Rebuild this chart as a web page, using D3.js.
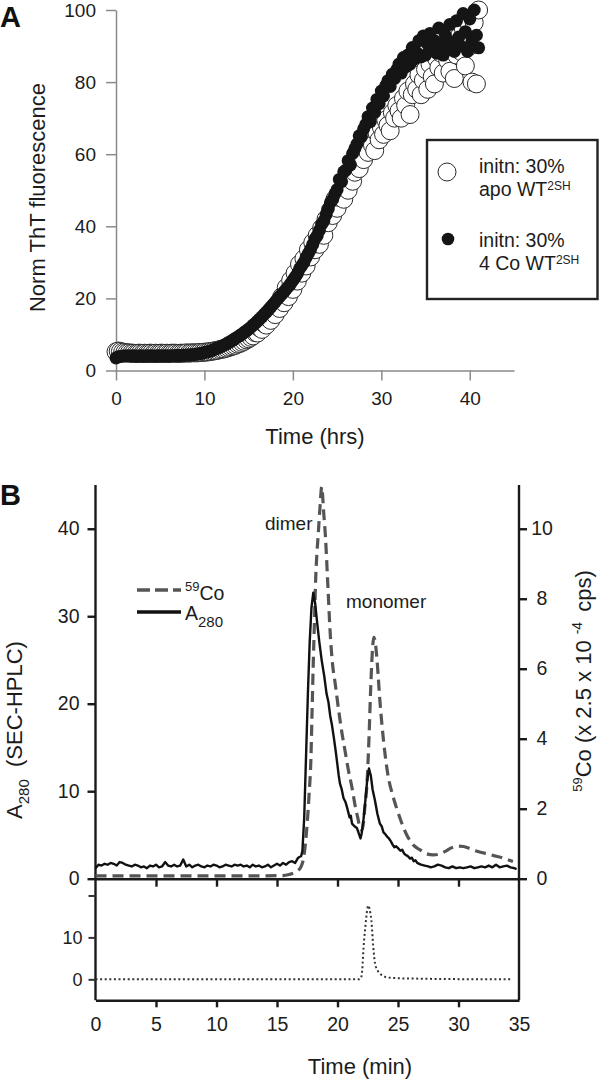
<!DOCTYPE html>
<html><head><meta charset="utf-8">
<script src="https://cdn.jsdelivr.net/npm/d3@7"></script>
<style>
html,body{margin:0;padding:0;background:#fff;}
svg{display:block;}
</style></head><body>
<svg id="c" width="601" height="1080"></svg>
<script>
// ---------------- DATA ----------------
// Panel A: ThT fluorescence (hours)
const thtTime = [
 0,0.25,0.5,0.75, 1,1.25,1.5,1.75, 2,2.25,2.5,2.75, 3,3.25,3.5,3.75, 4,4.25,4.5,4.75,
 5,5.25,5.5,5.75, 6,6.25,6.5,6.75, 7,7.25,7.5,7.75, 8,8.25,8.5,8.75, 9,9.25,9.5,9.75,
 10,10.25,10.5,10.75, 11,11.25,11.5,11.75, 12,12.25,12.5,12.75, 13,13.25,13.5,13.75,
 14,14.25,14.5,14.75, 15,15.25,15.5,15.75, 16,16.25,16.5,16.75, 17,17.25,17.5,17.75,
 18,18.25,18.5,18.75, 19,19.25,19.5,19.75, 20,20.25,20.5,20.75, 21,21.25,21.5,21.75,
 22,22.25,22.5,22.75, 23,23.25,23.5,23.75, 24,24.25,24.5,24.75, 25,25.25,25.5,25.75,
 26,26.25,26.5,26.75, 27,27.25,27.5,27.75, 28,28.25,28.5,28.75, 29,29.25,29.5,29.75,
 30,30.25,30.5,30.75, 31,31.25,31.5,31.75, 32,32.25,32.5,32.75, 33,33.25,33.5,33.75,
 34,34.25,34.5,34.75, 35,35.25,35.5,35.75, 36,36.25,36.5,36.75, 37,37.25,37.5,37.75,
 38,38.25,38.5,38.75, 39,39.25,39.5,39.75, 40,40.25,40.5,40.75, 41];
const apoValues = [
 5.2,5.4,5.3,5.1, 5.0,4.9,4.9,4.8, 4.8,4.7,4.8,4.8, 4.7,4.8,4.7,4.8, 4.8,4.7,4.8,4.7,
 4.8,4.8,4.7,4.8, 4.7,4.8,4.8,4.8, 4.7,4.8,4.8,4.8, 4.9,4.8,4.9,4.9, 4.9,4.9,5.0,5.0,
 5.1,5.1,5.2,5.3, 5.4,5.5,5.6,5.8, 5.9,6.0,6.2,6.4, 6.6,6.8,7.0,7.3,
 7.5,7.8,8.1,8.5, 8.8,9.2,9.6,10.5, 10.4,11.8,11.4,13.0, 12.6,14.5,13.9,16.2,
 15.5,18.0,17.2,20.5, 18.8,23.0,20.5,25.0, 22.5,27.0,24.8,29.5, 27.0,31.0,29.0,33.5,
 31.5,35.5,33.5,37.5, 35.0,39.5,37.5,42.0, 41.0,44.5,43.0,47.5, 45.0,48.0,49.5,47.5,
 51.5,50.0,54.5,52.5, 55.0,57.5,56.0,60.0, 58.5,62.0,60.5,64.5, 62.5,61.0,66.0,64.0,
 67.5,65.5,69.5,68.0, 66.5,71.5,70.0,73.5, 72.0,70.0,75.5,73.5, 77.5,71.0,76.5,79.5,
 78.0,82.0,76.5,80.5, 83.5,78.0,85.0,81.5, 79.5,86.5,84.0,88.0, 82.5,89.5,86.0,83.0,
 90.5,81.0,87.5,92.5, 88.5,95.0,84.5,97.0, 90.0,80.0,96.5,79.5, 100.0];
const coValues = [
 3.5,3.8,3.9,4.0, 4.0,4.1,4.0,4.0, 4.1,4.0,4.0,4.1, 4.0,4.0,4.1,4.0, 4.1,4.0,4.0,4.1,
 4.1,4.0,4.1,4.1, 4.0,4.1,4.1,4.1, 4.2,4.1,4.2,4.2, 4.3,4.3,4.4,4.4, 4.5,4.6,4.7,4.8,
 5.0,5.1,5.3,5.5, 5.7,6.0,6.2,6.5, 6.8,7.1,7.4,7.8, 8.1,8.5,8.9,9.3,
 9.7,10.1,10.6,11.0, 11.5,12.0,12.6,13.1, 13.7,14.3,14.9,15.6, 16.2,16.9,17.6,18.3,
 19.0,19.8,20.5,21.2, 21.8,22.6,23.3,24.1, 25.0,25.9,26.8,28.2, 29.1,30.0,31.4,32.5,
 33.6,35.0,36.5,37.4, 38.9,40.6,41.5,43.2, 44.8,46.6,47.5,49.0, 50.2,53.0,52.4,55.1,
 55.6,58.2,57.0,60.2, 61.5,62.8,65.1,64.9, 67.0,68.3,70.4,69.0, 72.8,71.6,75.2,74.0,
 77.5,76.2,79.0,80.4, 78.8,82.2,81.0,83.5, 85.0,82.5,86.8,84.2, 87.5,85.0,89.6,86.4,
 88.2,91.5,87.0,92.8, 87.5,90.5,93.5,89.0, 91.5,88.0,95.0,90.5, 87.5,93.0,89.0,96.0,
 91.0,88.5,97.0,92.5, 90.0,99.0,94.0,88.5, 97.5,91.5,100.0,93.0, 89.5];
const aXTicks = [0,10,20,30,40];
const aYTicks = [0,20,40,60,80,100];

// Panel B: SEC-HPLC (minutes); [time, value]
const a280 = [
 [0,1.2],[0.25,1.6],[0.5,1.5],[0.75,1.7],[1,1.6],[1.25,1.8],[1.5,1.7],[1.75,1.5],[2,1.9],[2.25,1.8],
 [2.5,1.6],[2.75,1.5],[3,1.4],[3.25,1.6],[3.5,1.5],[3.75,1.3],[4,1.4],[4.25,1.2],[4.5,1.5],[4.75,1.4],
 [5,1.6],[5.25,1.3],[5.5,1.4],[5.75,1.9],[6,1.5],[6.25,1.4],[6.5,1.6],[6.75,1.4],[7,1.5],[7.25,2.2],
 [7.5,1.4],[7.75,1.6],[8,1.3],[8.25,1.5],[8.5,1.6],[8.75,1.4],[9,1.3],[9.25,1.5],[9.5,1.4],[9.75,1.6],
 [10,1.5],[10.25,1.3],[10.5,1.4],[10.75,1.6],[11,1.5],[11.25,1.4],[11.5,1.6],[11.75,1.5],[12,1.6],[12.25,1.4],
 [12.5,1.5],[12.75,1.3],[13,1.6],[13.25,1.4],[13.5,1.5],[13.75,1.3],[14,1.4],[14.25,1.6],[14.5,1.3],[14.75,1.5],
 [15,1.7],[15.25,1.5],[15.5,1.8],[15.75,1.6],[16,1.9],[16.25,2.0],[16.5,1.8],[16.75,2.4],
 [17.0,2.6],[17.1,3.2],[17.25,7],[17.4,14],[17.55,21],[17.7,27],[17.85,31],[18.0,32.7],[18.15,31.5],[18.3,29.5],
 [18.5,27],[18.7,24.9],[18.9,23.2],[19.1,21.1],[19.25,20.2],[19.4,18.6],[19.55,17.5],[19.7,16.1],[19.85,14.6],[19.95,13.5],
 [20.1,11.8],[20.2,10.9],[20.35,10.2],[20.5,9.2],[20.65,8.8],[20.8,8.1],[21.0,7.0],[21.1,7.2],[21.2,6.3],[21.4,6.0],
 [21.6,5.8],[21.75,5.2],[21.9,4.6],[22.0,5.2],[22.15,6.8],[22.3,8.9],[22.45,11.2],[22.6,12.6],[22.75,11.8],[22.9,10.2],
 [23.1,8.9],[23.3,7.4],[23.5,6.3],[23.65,6.0],[23.8,5.3],[23.95,5.1],[24.1,4.8],[24.25,4.6],[24.4,4.3],[24.55,3.9],
 [24.7,3.6],[24.85,3.7],[25.0,3.5],[25.2,3.2],[25.35,3.3],[25.5,2.9],[25.65,2.7],[25.8,2.6],[26.0,2.3],[26.15,2.4],
 [26.3,2.0],[26.45,2.1],[26.6,1.8],[26.75,1.7],[26.9,1.6],[27.2,1.5],[27.5,1.4],[27.7,1.3],[28.0,1.4],[28.3,1.6],
 [28.6,1.5],[28.9,1.3],[29.2,1.2],[29.5,1.4],[29.8,1.2],[30.1,1.3],[30.4,1.2],[30.7,1.3],[31.0,1.4],[31.3,1.2],
 [31.6,1.3],[31.9,1.4],[32.2,1.3],[32.5,1.5],[32.8,1.3],[33.1,1.6],[33.4,1.3],[33.7,1.4],[34.0,1.5],[34.3,1.3],
 [34.6,1.2],[34.8,1.1]];
// 59Co in right-axis units (x 2.5 x 10^-4 cps)
const co59 = [
 [0,0.08],[4,0.08],[8,0.08],[12,0.08],[15.5,0.09],[16.0,0.12],[16.5,0.18],[16.8,0.25],[17.0,0.35],[17.2,0.6],
 [17.35,1.0],[17.5,1.6],[17.65,2.4],[17.8,3.4],[17.9,4.8],[18.0,6.2],[18.1,7.4],[18.2,8.6],[18.3,9.3],[18.4,9.8],
 [18.55,10.6],[18.7,11.2],[18.85,10.5],[19.0,9.8],[19.2,8.4],[19.4,7.0],[19.6,6.1],[19.8,5.6],[20.1,4.8],[20.35,4.2],
 [20.6,3.7],[20.9,3.1],[21.2,2.6],[21.45,2.1],[21.7,1.7],[21.9,1.4],[22.05,1.4],[22.25,2.0],[22.45,2.8],[22.6,4.0],
 [22.75,5.5],[22.9,6.6],[23.0,6.9],[23.1,6.8],[23.3,6.1],[23.5,5.1],[23.7,4.3],[23.95,3.5],[24.2,2.9],[24.55,2.4],
 [24.9,2.0],[25.3,1.6],[25.8,1.2],[26.3,0.95],[26.8,0.83],[27.3,0.72],[27.9,0.68],[28.4,0.7],[28.9,0.78],[29.4,0.88],
 [29.9,0.93],[30.4,0.92],[30.9,0.87],[31.4,0.8],[31.9,0.75],[32.4,0.71],[32.9,0.66],[33.4,0.62],[33.9,0.56],[34.5,0.49]];
// lower trace
const lowerTrace = [
 [0,0],[5,0],[10,0],[15,0],[20,0],[21.8,0],[21.95,0.4],[22.05,2.5],[22.15,7.5],[22.3,12.5],
 [22.45,16.5],[22.55,17.6],[22.65,16.8],[22.8,14],[22.95,8],[23.1,3.8],[23.3,2.2],[23.5,1.4],[23.8,0.8],[24.0,0.5],
 [24.5,0.35],[25.1,0.25],[26,0.2],[28,0.1],[30,0.05],[34.3,0]];
const bXTicks = [0,5,10,15,20,25,30,35];
const bLeftTicks = [0,10,20,30,40];
const bRightTicks = [0,2,4,6,8,10];
const bLowerTicks = [0,10,20];

// ---------------- DRAW ----------------
const FONT = '"Liberation Sans", Arial, Helvetica, sans-serif';
const INK = '#1c1c1c';
const svg = d3.select('#c').style('font-family', FONT);

function styleAxis(g, color, width, fs) {
  g.attr('font-family', FONT).attr('font-size', fs);
  g.selectAll('path.domain').attr('stroke', color).attr('stroke-width', width);
  g.selectAll('.tick line').attr('stroke', color).attr('stroke-width', width);
  g.selectAll('.tick text').attr('fill', INK);
}

// ---- Panel A ----
const xA = d3.scaleLinear().domain([0,45]).range([116,514]);
const yA = d3.scaleLinear().domain([0,100]).range([370.5,10]);

const gxA = svg.append('g').attr('transform', `translate(0,${yA(0)})`)
  .call(d3.axisBottom(xA).tickValues(aXTicks).tickSize(10).tickSizeOuter(0).tickPadding(11.5));
styleAxis(gxA, '#8a8a8a', 1.5, 19);
const gyA = svg.append('g').attr('transform', `translate(${xA(0)},0)`)
  .call(d3.axisLeft(yA).tickValues(aYTicks).tickSize(10).tickSizeOuter(0).tickPadding(10));
styleAxis(gyA, '#8a8a8a', 1.5, 19);

const apoPts = thtTime.map((t,i)=>[t, apoValues[i]]).filter(d=>d[1]!=null);
const coPts = thtTime.map((t,i)=>[t, coValues[i]]).filter(d=>d[1]!=null);
svg.append('g').selectAll('circle').data(apoPts).join('circle')
  .attr('cx', d=>xA(d[0])).attr('cy', d=>yA(d[1])).attr('r', 9)
  .attr('fill', '#fff').attr('stroke', '#2a2a2a').attr('stroke-width', 1);
svg.append('g').selectAll('circle').data(coPts).join('circle')
  .attr('cx', d=>xA(d[0])).attr('cy', d=>yA(d[1])).attr('r', 6.5)
  .attr('fill', '#151515');

svg.append('text').attr('x', xA(0) + (xA(45)-xA(0))/2).attr('y', 444)
  .attr('text-anchor','middle').attr('font-size',22).attr('fill',INK).text('Time (hrs)');
svg.append('text').attr('transform','translate(45,197.5) rotate(-90)')
  .attr('text-anchor','middle').attr('font-size',22).attr('fill',INK).text('Norm ThT fluorescence');
svg.append('text').attr('x',0).attr('y',27).attr('font-size',29).attr('font-weight','bold')
  .attr('fill','#111').text('A');

// legend A
const legA = svg.append('g');
legA.append('rect').attr('x',427).attr('y',140).attr('width',170.5).attr('height',159)
  .attr('fill','#fff').attr('stroke','#222').attr('stroke-width',2.4);
legA.append('circle').attr('cx',447).attr('cy',172).attr('r',9)
  .attr('fill','#fff').attr('stroke','#2a2a2a').attr('stroke-width',1);
legA.append('circle').attr('cx',448).attr('cy',239).attr('r',6.3).attr('fill','#151515');
function legText(y1, l1, y2, l2) {
  legA.append('text').attr('x',479).attr('y',y1).attr('font-size',19.5).attr('fill',INK).text(l1);
  const t = legA.append('text').attr('x',479).attr('y',y2).attr('font-size',19.5).attr('fill',INK);
  t.append('tspan').text(l2);
  t.append('tspan').attr('font-size',12).attr('dy',-6).text('2SH');
}
legText(173, 'initn: 30%', 196, 'apo WT');
legText(247, 'initn: 30%', 270, '4 Co WT');

// ---- Panel B ----
const xB = d3.scaleLinear().domain([0,35]).range([95.5,519]);
const yL = d3.scaleLinear().domain([0,45]).range([878.7,485]);
const yR = d3.scaleLinear().domain([0,11.25]).range([878.7,485]);
const yD = d3.scaleLinear().domain([-5,24]).range([1000.3,878.7]);
const AX = '#1a1a1a', AXW = 2.4;

// spines
svg.append('line').attr('x1',xB(0)).attr('x2',xB(0)).attr('y1',yL(45)).attr('y2',yD(-5))
  .attr('stroke',AX).attr('stroke-width',AXW);
svg.append('line').attr('x1',xB(35)).attr('x2',xB(35)).attr('y1',yL(45)).attr('y2',yD(-5))
  .attr('stroke',AX).attr('stroke-width',AXW);

const gL = svg.append('g').attr('transform',`translate(${xB(0)},0)`)
  .call(d3.axisLeft(yL).tickValues(bLeftTicks).tickSize(8).tickSizeOuter(0).tickPadding(8));
styleAxis(gL, AX, AXW, 19.5);
gL.select('path.domain').remove();

const gR = svg.append('g').attr('transform',`translate(${xB(35)},0)`)
  .call(d3.axisRight(yR).tickValues(bRightTicks).tickSize(8).tickSizeOuter(0).tickPadding(8));
styleAxis(gR, AX, AXW, 19.5);
gR.select('path.domain').remove();
gR.selectAll('.tick text').attr('text-anchor','middle').attr('x',23);

// upper x axis (ticks only, no labels)
const gXU = svg.append('g').attr('transform',`translate(0,${yL(0)})`)
  .call(d3.axisBottom(xB).tickValues([5,10,15,20,25,30]).tickSize(8).tickSizeOuter(0).tickFormat(''));
styleAxis(gXU, AX, AXW, 19.5);

// lower axes
const gD = svg.append('g').attr('transform',`translate(${xB(0)},0)`)
  .call(d3.axisLeft(yD).tickValues(bLowerTicks).tickSize(7).tickSizeOuter(0).tickPadding(6)
    .tickFormat(d => d===20 ? '' : d));
styleAxis(gD, '#333', 2, 18);
gD.select('path.domain').remove();

const gXB = svg.append('g').attr('transform',`translate(0,${yD(-5)})`)
  .call(d3.axisBottom(xB).tickValues(bXTicks).tickSize(7).tickSizeOuter(0).tickPadding(10));
styleAxis(gXB, AX, AXW, 19.5);
gXB.selectAll('.tick line').filter(d => d===0 || d===35).remove();

// lines
const lineL = d3.line().x(d=>xB(d[0])).y(d=>yL(d[1]));
const lineR = d3.line().x(d=>xB(d[0])).y(d=>yR(d[1])).curve(d3.curveMonotoneX);
const lineD = d3.line().x(d=>xB(d[0])).y(d=>yD(d[1])).curve(d3.curveMonotoneX);

svg.append('path').datum(co59).attr('d', lineR).attr('fill','none')
  .attr('stroke','#555').attr('stroke-width',3.2).attr('stroke-dasharray','11,6');
svg.append('path').datum(a280).attr('d', lineL).attr('fill','none')
  .attr('stroke','#111').attr('stroke-width',2.4).attr('stroke-linejoin','round');
svg.append('path').datum(lowerTrace).attr('d', lineD).attr('fill','none')
  .attr('stroke','#333').attr('stroke-width',2).attr('stroke-dasharray','2,2.6');

// annotations
svg.append('text').attr('x',265).attr('y',530).attr('font-size',19).attr('fill',INK).text('dimer');
svg.append('text').attr('x',346).attr('y',608).attr('font-size',19).attr('fill',INK).text('monomer');

// legend B
svg.append('line').attr('x1',137).attr('x2',181).attr('y1',590).attr('y2',590)
  .attr('stroke','#555').attr('stroke-width',3.5).attr('stroke-dasharray','13,5');
svg.append('line').attr('x1',137).attr('x2',181).attr('y1',612).attr('y2',612)
  .attr('stroke','#111').attr('stroke-width',3.5);
const lc = svg.append('text').attr('x',185).attr('y',600).attr('font-size',19.5).attr('fill',INK);
lc.append('tspan').attr('font-size',13).attr('dy',-9).text('59');
lc.append('tspan').attr('dy',9).text('Co');
const la = svg.append('text').attr('x',185).attr('y',620).attr('font-size',19.5).attr('fill',INK);
la.append('tspan').text('A');
la.append('tspan').attr('font-size',15).attr('dy',7).text('280');

// axis titles B
const tl = svg.append('text').attr('transform','translate(22,730) rotate(-90)')
  .attr('text-anchor','middle').attr('font-size',22).attr('fill',INK);
tl.append('tspan').text('A');
tl.append('tspan').attr('font-size',15).attr('dy',7).text('280');
tl.append('tspan').attr('dy',-7).text('\u00a0 (SEC-HPLC)');

const tr = svg.append('text').attr('transform','translate(591,681) rotate(-90)')
  .attr('text-anchor','middle').attr('font-size',22).attr('fill',INK);
tr.append('tspan').attr('font-size',13).attr('dy',-9).text('59');
tr.append('tspan').attr('dy',9).text('Co (x 2.5 x 10');
tr.append('tspan').attr('font-size',14).attr('dy',-9).attr('dx',6).text('-4');
tr.append('tspan').attr('dy',9).attr('dx',4).text(' cps)');

svg.append('text').attr('x',360).attr('y',1074).attr('text-anchor','middle')
  .attr('font-size',22).attr('fill',INK).text('Time (min)');
svg.append('text').attr('x',0).attr('y',505).attr('font-size',29).attr('font-weight','bold')
  .attr('fill','#111').text('B');
</script>
</body></html>
